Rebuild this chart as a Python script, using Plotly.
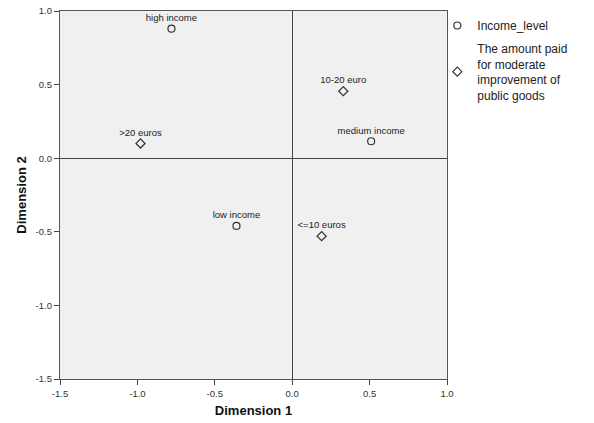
import plotly.graph_objects as go

income_labels = ["high income", "medium income", "low income"]
income_x = [-0.78, 0.51, -0.36]
income_y = [0.88, 0.115, -0.46]

paid_labels = [">20 euros", "10-20 euro", "<=10 euros"]
paid_x = [-0.98, 0.33, 0.19]
paid_y = [0.10, 0.455, -0.53]

tick_vals = [-1.5, -1.0, -0.5, 0.0, 0.5, 1.0]
tick_text = ["-1.5", "-1.0", "-0.5", "0.0", "0.5", "1.0"]

FONT = "Liberation Sans, Arial, sans-serif"

fig = go.Figure()
fig.add_trace(go.Scatter(
    x=income_x, y=income_y, mode="markers+text", text=income_labels,
    textposition="top center", textfont=dict(size=9.5, color="#222", family=FONT),
    marker=dict(symbol="circle-open", size=7, color="#333", line=dict(width=1.2)),
    name="Income_level", legendgroup="a"))
fig.add_trace(go.Scatter(
    x=paid_x, y=paid_y, mode="markers+text", text=paid_labels,
    textposition="top center", textfont=dict(size=9.5, color="#222", family=FONT),
    marker=dict(symbol="diamond-open", size=7, color="#333", line=dict(width=1.2)),
    name="The amount paid<br>for moderate<br>improvement of<br>public goods",
    legendgroup="b"))

axis_common = dict(
    tickvals=tick_vals, ticktext=tick_text, ticks="outside", ticklen=5,
    tickcolor="#444", showgrid=False, zeroline=True, zerolinecolor="#444",
    zerolinewidth=1.3, showline=True, linecolor="#555", linewidth=1.3, mirror=True,
    automargin=False,
    tickfont=dict(size=9.5, color="#333", family=FONT))

fig.update_xaxes(**axis_common)
fig.update_xaxes(range=[-1.5, 1.0],
                 title=dict(text="<b>Dimension 1</b>", font=dict(size=13, color="#111", family=FONT), standoff=8))
fig.update_yaxes(**axis_common)
fig.update_yaxes(range=[-1.5, 1.0],
                 title=dict(text="<b>Dimension 2</b>", font=dict(size=13, color="#111", family=FONT), standoff=6))

fig.update_layout(
    width=594, height=423,
    margin=dict(l=60, r=147, t=11, b=44),
    plot_bgcolor="#F0F0F0", paper_bgcolor="white",
    showlegend=True,
    legend=dict(x=0.975, y=1.0, xanchor="left", yanchor="top",
                font=dict(size=12, color="#222", family=FONT),
                tracegroupgap=4, bgcolor="rgba(0,0,0,0)"),
    font=dict(family=FONT),
)

fig.write_html(
    "out.html",
    config={"displayModeBar": False},
    post_script="document.body.style.margin='0';document.body.style.overflow='hidden';"
                "document.documentElement.style.overflow='hidden';",
)
